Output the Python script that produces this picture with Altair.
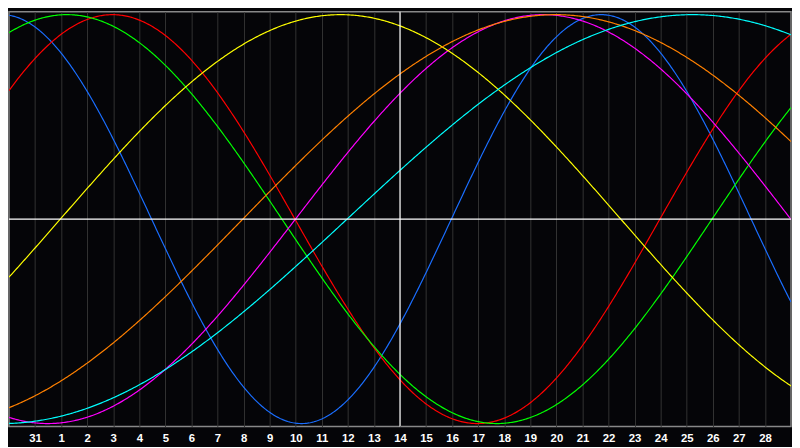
import json
import altair as alt
import numpy as np
import pandas as pd

# ---- data ----
day_labels = ["31"] + [str(d) for d in range(1, 29)]          # tick labels at t = 1..29
tick_positions = list(range(1, 30))
series_names = ["Physical", "Emotional", "Intellectual", "Intuitive",
                "Aesthetic", "Awareness", "Spiritual"]
periods = [23, 28, 33, 38, 43, 48, 53]                          # cycle lengths (days)
zero_up = [16.97, 24.97, 26.97, 10.99, 1.97, 8.97, 12.97]       # upward zero crossings (t)
colors = ["#1a6eff", "#ff0000", "#00ff00", "#ff00ff", "#ffff00", "#ff8000", "#00ffff"]
today_t = [15]
x_domain = [0, 30]
y_domain = [-1.0142, 1.0142]

rows = []
t_grid = np.arange(x_domain[0], x_domain[1] + 0.0001, 0.05)
for name, p, z in zip(series_names, periods, zero_up):
    for t in t_grid:
        rows.append({"series": name, "t": float(t),
                     "v": float(np.sin(2 * np.pi * (t - z) / p))})
df = pd.DataFrame(rows)

label_expr = json.dumps(day_labels) + "[datum.value - 1]"

x_scale = alt.Scale(domain=x_domain, nice=False, zero=False)
x_axis = alt.Axis(values=tick_positions, labelExpr=label_expr, title=None,
                  grid=True, gridColor="#333333", gridWidth=1, tickSize=0,
                  domain=False, labelColor="#ffffff", labelFont="Liberation Sans",
                  labelFontWeight="bold", labelFontSize=11.5, labelPadding=6,
                  labelFlush=False, labelOverlap=False, labelSeparation=0)
y_scale = alt.Scale(domain=y_domain, nice=False, zero=False)

hline = alt.Chart(pd.DataFrame({"v": [0.0]})).mark_rule(
    color="#ffffff", strokeWidth=1.2).encode(y=alt.Y("v:Q", scale=y_scale, axis=None))
vline = alt.Chart(pd.DataFrame({"t": today_t})).mark_rule(
    color="#ffffff", strokeWidth=1.2).encode(x=alt.X("t:Q", scale=x_scale, axis=x_axis))

lines = alt.Chart(df).mark_line(strokeWidth=1.2, clip=True).encode(
    x=alt.X("t:Q", scale=x_scale, axis=x_axis),
    y=alt.Y("v:Q", scale=y_scale, axis=None),
    color=alt.Color("series:N", scale=alt.Scale(domain=series_names, range=colors),
                    legend=None),
)

chart = alt.layer(lines, hline, vline).properties(
    width=792, height=420, padding=0, background="#050508"
).configure_view(
    stroke="#888888", strokeWidth=1.5, fill="#050508"
).configure_axis(
    labelOverlap=False
)

chart.save("out.html", embed_options={"renderer": "svg", "actions": False})
